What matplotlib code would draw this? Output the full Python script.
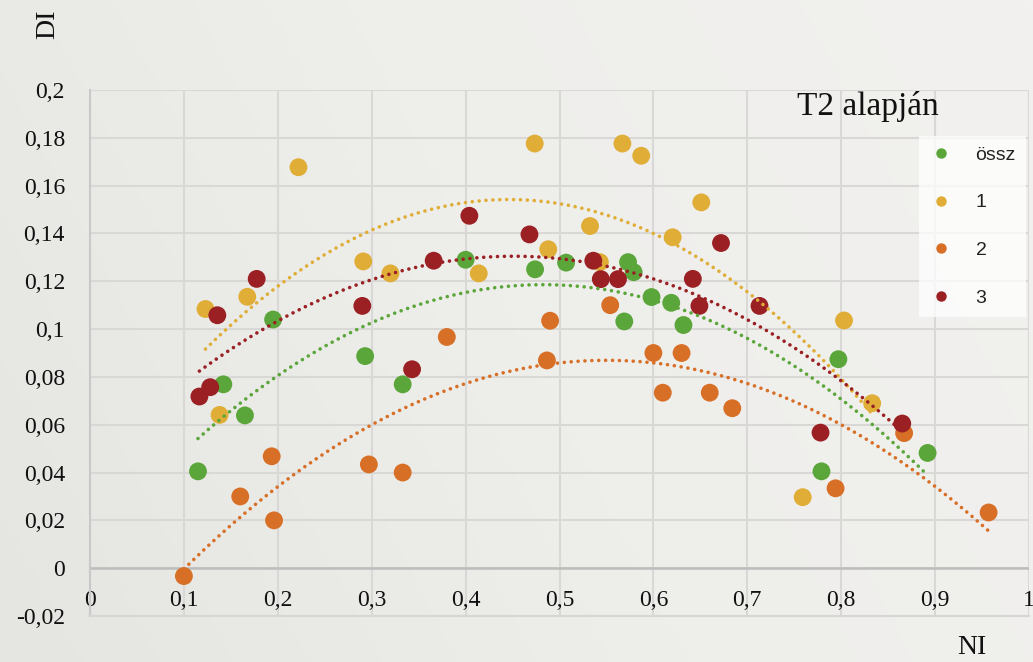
import numpy as np
import matplotlib
matplotlib.use("Agg")
import matplotlib.pyplot as plt
from matplotlib.colors import LinearSegmentedColormap
from matplotlib.lines import Line2D

# --- data ---
ossz_x = [0.115, 0.142, 0.165, 0.195, 0.293, 0.333, 0.400, 0.474, 0.507, 0.573,
          0.579, 0.598, 0.619, 0.569, 0.632, 0.797, 0.779, 0.892]
ossz_y = [0.0405, 0.0769, 0.0639, 0.104, 0.0887, 0.0769, 0.129, 0.125, 0.1278, 0.128,
          0.1238, 0.1134, 0.111, 0.1032, 0.1017, 0.0874, 0.0405, 0.0482]

s1_x = [0.123, 0.138, 0.1675, 0.222, 0.291, 0.320, 0.414, 0.4736, 0.488, 0.5325,
        0.543, 0.567, 0.587, 0.6205, 0.651, 0.759, 0.803, 0.833]
s1_y = [0.1084, 0.0641, 0.1135, 0.1677, 0.1283, 0.1233, 0.1233, 0.1776, 0.1334, 0.1431,
        0.128, 0.1776, 0.1725, 0.1384, 0.153, 0.0297, 0.1036, 0.069]

s2_x = [0.100, 0.160, 0.1935, 0.196, 0.297, 0.333, 0.380, 0.4866, 0.490, 0.554,
        0.600, 0.630, 0.610, 0.660, 0.684, 0.794, 0.867, 0.957]
s2_y = [-0.0033, 0.030, 0.0468, 0.020, 0.0434, 0.040, 0.0967, 0.0869, 0.1035, 0.110,
        0.090, 0.090, 0.0734, 0.0734, 0.0669, 0.0334, 0.0565, 0.0233]

s3_x = [0.1165, 0.128, 0.1356, 0.1775, 0.290, 0.343, 0.366, 0.404, 0.468, 0.536,
        0.544, 0.5623, 0.642, 0.672, 0.649, 0.713, 0.778, 0.865]
s3_y = [0.0718, 0.0757, 0.1058, 0.121, 0.1097, 0.0832, 0.1286, 0.1474, 0.1396, 0.1286,
        0.1209, 0.1209, 0.121, 0.136, 0.1097, 0.1097, 0.0567, 0.0605]

series_names = ["össz", "1", "2", "3"]
series_colors = ["#5ba63a", "#e0ad36", "#d86f27", "#9a2024"]
x_ticks = [0, 0.1, 0.2, 0.3, 0.4, 0.5, 0.6, 0.7, 0.8, 0.9, 1]
y_ticks = [-0.02, 0, 0.02, 0.04, 0.06, 0.08, 0.1, 0.12, 0.14, 0.16, 0.18, 0.2]


def comma(v):
    s = ("%g" % round(v, 2))
    return s.replace(".", ",")


serif = "Liberation Serif"

fig = plt.figure(figsize=(10.33, 6.62), dpi=100)

# soft gray gradient background
bg = fig.add_axes([0, 0, 1, 1])
cmap = LinearSegmentedColormap.from_list("bg", ["#e5e5e2", "#eeeeeb", "#f2f1ef"])
gx, gy = np.meshgrid(np.linspace(0, 1, 200), np.linspace(0, 1, 200))
bg.imshow(0.75 * gx + 0.25 * gy, cmap=cmap, aspect="auto", origin="lower",
          extent=[0, 1, 0, 1])
bg.axis("off")

ax = fig.add_axes([90 / 1033, 46 / 662, 939 / 1033, 526 / 662])
ax.set_facecolor("none")
ax.set_xlim(0, 1)
ax.set_ylim(-0.02, 0.2)

ax.set_xticks(x_ticks)
ax.set_yticks(y_ticks)
ax.set_xticklabels([comma(v) for v in x_ticks], family=serif, fontsize=17)
ax.set_yticklabels([comma(v) for v in y_ticks], family=serif, fontsize=17)
ax.tick_params(axis="both", length=0, colors="#111111")
ax.tick_params(axis="y", pad=18)
ax.tick_params(axis="x", pad=-18.5)

ax.grid(True, color="#d9d8d6", linewidth=1.5)
ax.set_axisbelow(True)
for side in ["top", "right"]:
    ax.spines[side].set_visible(False)
ax.spines["left"].set_color("#c9c9c9")
ax.spines["left"].set_linewidth(1.5)
ax.spines["bottom"].set_color("#d6d6d4")
ax.spines["bottom"].set_linewidth(1.5)
ax.axhline(0, color="#bdbdbd", linewidth=1.8, zorder=1)

data = [(ossz_x, ossz_y), (s1_x, s1_y), (s2_x, s2_y), (s3_x, s3_y)]
for (xs, ys), name, col in zip(data, series_names, series_colors):
    ax.scatter(xs, ys, s=165, color=col, edgecolors="none", zorder=3, label=name)
for (xs, ys), col in zip(data, series_colors):
    # 2nd order polynomial trendline, as in the original spreadsheet chart
    coef = np.polyfit(xs, ys, 2)
    tx = np.linspace(min(xs), max(xs), 200)
    ax.plot(tx, np.polyval(coef, tx), color=col, linewidth=2.6,
            linestyle=(0, (0.01, 1.9)), dash_capstyle="round", zorder=4)

handles = [Line2D([], [], marker="o", linestyle="none", markersize=7.5,
                  markerfacecolor=c, markeredgecolor="none") for c in series_colors]
leg = ax.legend(handles, series_names, loc="upper left", bbox_to_anchor=(0.883, 0.912),
                frameon=True, facecolor="white", framealpha=0.75, edgecolor="none",
                fancybox=False, borderpad=0.5, labelspacing=1.55, handlelength=1.2,
                handletextpad=1.2, borderaxespad=0,
                prop={"family": "Liberation Sans", "size": 14})
leg.set_zorder(5)
for t in leg.get_texts():
    t.set_color("#222222")

fig.text(868 / 1033, 1 - 106 / 662, "T2 alapján", family=serif, fontsize=24,
         ha="center", va="center", color="#111111")
fig.text(48 / 1033, 1 - 24 / 662, "DI", family=serif, fontsize=20, rotation=90,
         ha="center", va="center", color="#111111")
fig.text(972 / 1033, 1 - 648 / 662, "NI", family=serif, fontsize=20,
         ha="center", va="center", color="#111111")

fig.savefig("out.png", dpi=100)
